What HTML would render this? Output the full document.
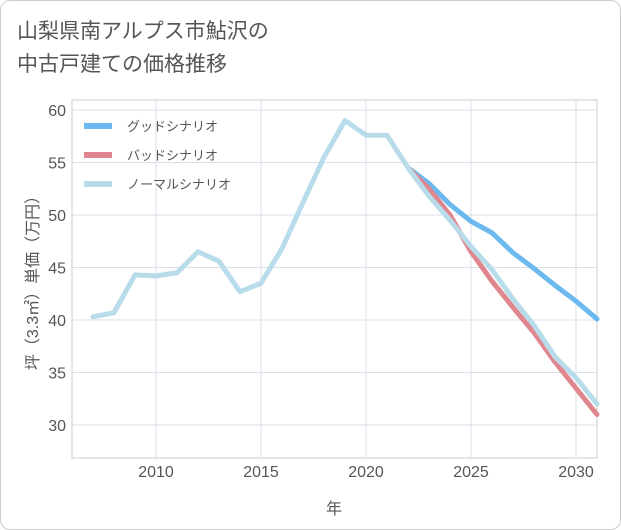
<!DOCTYPE html>
<html><head><meta charset="utf-8"><style>
body{margin:0;background:#fff;}
#c{position:relative;width:619px;height:528px;border:1px solid #ccc;border-radius:10px;overflow:hidden;font-family:"Liberation Sans","Noto Sans CJK JP",sans-serif;}
#t{position:absolute;left:16px;top:14px;font-size:21px;line-height:33px;color:#555;}
</style></head><body>
<div id="c">
<div id="t">山梨県南アルプス市鮎沢の<br>中古戸建ての価格推移</div>
<svg id="s" width="621" height="530" style="position:absolute;left:-1px;top:-1px"></svg>
</div>
<script>
const years=[2007,2008,2009,2010,2011,2012,2013,2014,2015,2016,2017,2018,2019,2020,2021,2022,2023,2024,2025,2026,2027,2028,2029,2030,2031];
const normal=[40.3,40.7,44.3,44.2,44.5,46.5,45.6,42.7,43.5,46.8,51.2,55.5,59,57.6,57.6,54.5,51.8,49.5,47,44.8,42,39.5,36.5,34.5,32];
const fYears=[2022,2023,2024,2025,2026,2027,2028,2029,2030,2031];
const good=[54.5,53,51,49.4,48.3,46.4,44.9,43.3,41.8,40.1];
const bad=[54.5,52.5,50,46.5,43.7,41.2,38.8,36,33.5,31];
const xTicks=[2010,2015,2020,2025,2030];
const yTicks=[30,35,40,45,50,55,60];
const L=72,R=597,T=100,B=458;
const x=v=>L+(v-2006)*(R-L)/25;
const y=v=>110+(60-v)*10.5;
const s=document.getElementById('s');const NS='http://www.w3.org/2000/svg';
function mk(t,a,p){const e=document.createElementNS(NS,t);for(const k in a)e.setAttribute(k,a[k]);(p||s).appendChild(e);return e;}
mk('rect',{x:L,y:T,width:R-L,height:B-T,fill:'none',stroke:'#ccc'});
yTicks.forEach(v=>{const g=mk('line',{x1:L,x2:R,y1:y(v),y2:y(v),stroke:'#d8e0e8'});

const t=mk('text',{x:L-6,y:y(v)+6,'text-anchor':'end','font-size':16,fill:'#555'});t.textContent=v;
});
xTicks.forEach(v=>{const g=mk('line',{x1:x(v),x2:x(v),y1:T,y2:B,stroke:'#d8e0e8'});

const t=mk('text',{x:x(v),y:477,'text-anchor':'middle','font-size':16,fill:'#555'});t.textContent=v;
});
const xt=mk('text',{x:334,y:514,'text-anchor':'middle','font-size':16,fill:'#555'});xt.textContent='年';

const yt=mk('text',{x:0,y:0,'text-anchor':'middle','font-size':16,fill:'#555',transform:'translate(38,279) rotate(-90)'});yt.textContent='坪（3.3㎡）単価（万円）';

function line(xs,vs,c,n){const p=mk('polyline',{points:xs.map((v,i)=>x(v)+','+y(vs[i])).join(' '),fill:'none',stroke:c,'stroke-width':5,'stroke-linejoin':'round','stroke-linecap':'round'});
}
line(fYears,good,'#6bb9ef','good-scenario-line');
line(fYears,bad,'#e0868e','bad-scenario-line');
line(years,normal,'#b9dcea','normal-scenario-line');
const leg=[['グッドシナリオ','#6bb9ef'],['バッドシナリオ','#e0868e'],['ノーマルシナリオ','#b9dcea']];
leg.forEach((l,i)=>{const yy=126+i*29;
const g=mk('line',{x1:84,x2:112,y1:yy,y2:yy,stroke:l[1],'stroke-width':6});

const t=mk('text',{x:127,y:yy+5,'font-size':13,fill:'#555'});t.textContent=l[0];
});
</script>
</body></html>
